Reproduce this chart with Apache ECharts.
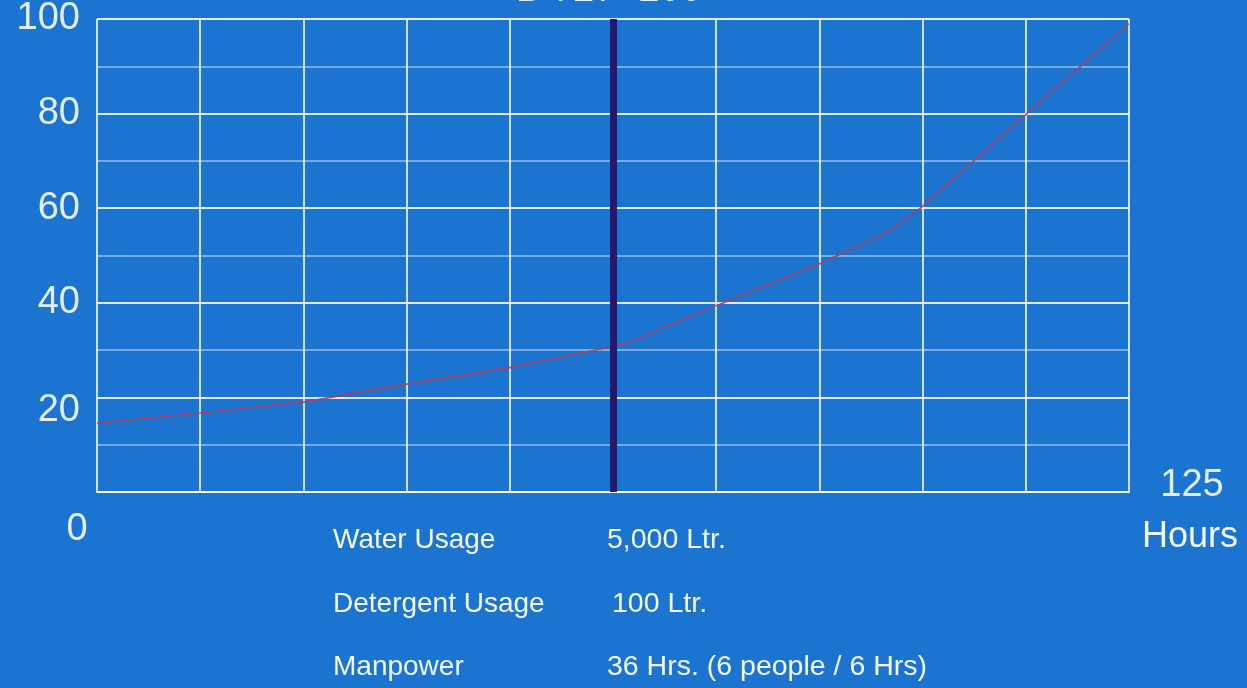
<!DOCTYPE html>
<html>
<head>
<meta charset="utf-8">
<style>
html,body{margin:0;padding:0;background:#1b74d0;}
#c{width:1247px;height:688px;}
</style>
<script src="https://cdn.jsdelivr.net/npm/echarts@6/dist/echarts.min.js"></script>
</head>
<body>
<div id="c"></div>
<script>
var titleText = 'B 727- 200';
var hours = [0, 12.5, 25, 37.5, 50, 64.2, 75, 87.5, 96.4, 100, 112.5, 125];
var values = [14.5, 16.7, 19.0, 22.8, 26.3, 31.4, 39.4, 48.2, 55.5, 60.4, 79.8, 99.0];
var markerHour = 62.5;
var yTicks = [20, 40, 60, 80, 100];
var xStartLabel = '0';
var xEndLabel = '125';
var xUnit = 'Hours';
var infoLabels = ['Water Usage', 'Detergent Usage', 'Manpower'];
var infoValues = ['5,000 Ltr.', '100 Ltr.', '36 Hrs. (6 people / 6 Hrs)'];

var chart = echarts.init(document.getElementById('c'));
var font = '"Liberation Sans", Arial, sans-serif';
var infoX2 = [607, 612, 607];
var infoY = [540, 604, 667];
var labelColor = 'rgba(255,255,255,0.88)';
var graphics = [
  {type:'text', silent:true, style:{text:titleText, x: 609, y: -9, fill:labelColor, font:'38px ' + font, align:'center', verticalAlign:'middle'}},
  {type:'text', style:{text:xStartLabel, x: 77, y: 530, fill:labelColor, font:'38px ' + font, align:'center', verticalAlign:'middle'}},
  {type:'text', style:{text:xEndLabel, x: 1192, y: 486, fill:labelColor, font:'38px ' + font, align:'center', verticalAlign:'middle'}},
  {type:'text', style:{text:xUnit, x: 1190, y: 537, fill:'rgba(255,255,255,0.95)', font:'36px ' + font, align:'center', verticalAlign:'middle'}}
];
for (var i = 0; i < infoLabels.length; i++) {
  graphics.push({type:'text', style:{text:infoLabels[i], x:333, y:infoY[i], fill:'rgba(255,255,255,0.95)', font:'28px ' + font, align:'left', verticalAlign:'middle'}});
  graphics.push({type:'text', style:{text:infoValues[i], x:infoX2[i], y:infoY[i], fill:'rgba(255,255,255,0.95)', font:'28.5px ' + font, align:'left', verticalAlign:'middle'}});
}

chart.setOption({
  backgroundColor: '#1b74d0',
  animation: false,
  grid: {left: 97, right: 118, top: 16, bottom: 196},
  xAxis: {
    type: 'value', min: 0, max: 125, interval: 12.5,
    axisLine: {show: true, lineStyle: {color: 'rgba(255,255,255,0.85)', width: 2}},
    axisTick: {show: false},
    axisLabel: {show: false},
    splitLine: {show: true, lineStyle: {color: 'rgba(255,255,255,0.78)', width: 2}}
  },
  yAxis: {
    type: 'value', min: 0, max: 100, interval: 10,
    axisLine: {show: false},
    axisTick: {show: false},
    axisLabel: {
      color: labelColor, fontSize: 38, fontFamily: font, margin: 17,
      formatter: function (v) {
        if (yTicks.indexOf(v) < 0) return '';
        return v === 20 ? '{low|' + v + '}' : String(v);
      },
      rich: {low: {fontSize: 38, fontFamily: font, color: labelColor, padding: [26, 0, 0, 0]}}
    },
    splitLine: {show: true, lineStyle: {color: ['rgba(255,255,255,0.85)', 'rgba(255,255,255,0.4)'], width: 2}}
  },
  graphic: graphics,
  series: [{
    type: 'line',
    data: hours.map(function (h, i) { return [h, values[i]]; }),
    showSymbol: false,
    lineStyle: {color: '#b03c5c', width: 1.6, opacity: 0.9},
    markLine: {
      silent: true, symbol: 'none',
      label: {show: false},
      lineStyle: {color: '#24186a', width: 7, type: 'solid'},
      data: [{xAxis: markerHour}]
    },
    z: 3
  }]
});
</script>
</body>
</html>
